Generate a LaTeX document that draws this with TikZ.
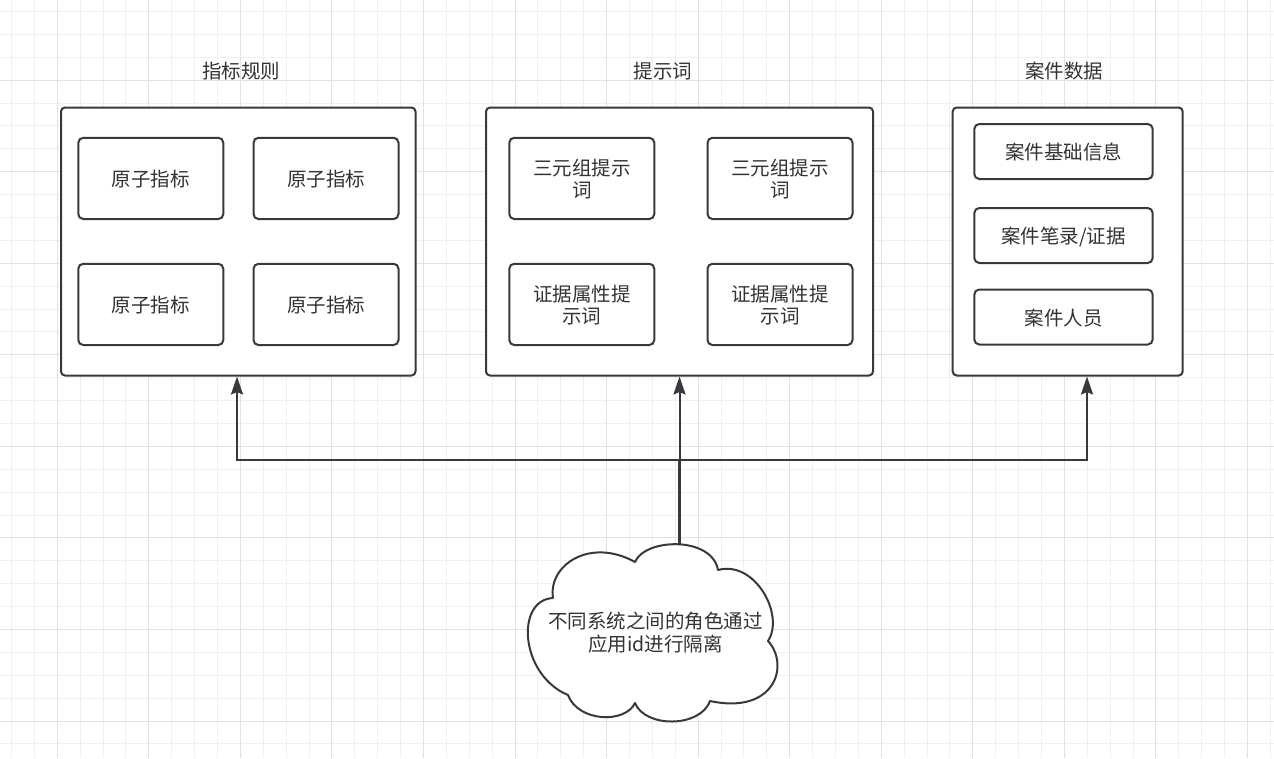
\documentclass[tikz,border=0pt]{standalone}
\usepackage{fontspec}
\setmainfont{Noto Sans CJK SC}
\usetikzlibrary{arrows.meta}
\definecolor{strokec}{HTML}{36393D}
\definecolor{txtc}{HTML}{333333}
\definecolor{gridminor}{HTML}{F0F0F0}
\definecolor{gridmajor}{HTML}{E2E2E2}
\begin{document}
\begin{tikzpicture}[x=1pt,y=-1pt,
  outerbox/.style={draw=strokec, line width=2pt, rounded corners=4pt, fill=white, inner sep=0pt},
  innerbox/.style={draw=strokec, line width=2pt, rounded corners=5pt, fill=white, inner sep=0pt, align=center, text=txtc, font=\fontsize{19.5}{22}\selectfont, text depth=0pt},
  titletext/.style={text=txtc, font=\fontsize{19.5}{23.3}\selectfont, inner sep=0pt, align=center},
  conn/.style={draw=strokec, line width=2pt, -{Stealth[length=18pt,width=12pt,inset=2.5pt]}},
  trunk/.style={draw=strokec, line width=3.5pt},
  cloudshape/.style={draw=strokec, line width=2pt, fill=white, line join=round}
]
\useasboundingbox (0,0) rectangle (1274,758);
\fill[white] (0,0) rectangle (1274,758);
% grid
\foreach \i in {0,...,55} \draw[gridminor, line width=1pt] ({11.45+\i*22.89},0) -- ({11.45+\i*22.89},758);
\foreach \j in {0,...,32} \draw[gridminor, line width=1pt] (0,{11.45+\j*22.89}) -- (1274,{11.45+\j*22.89});
\foreach \i in {2,6,...,54} \draw[gridmajor, line width=1pt] ({11.45+\i*22.89},0) -- ({11.45+\i*22.89},758);
\foreach \j in {3,7,...,31} \draw[gridmajor, line width=1pt] (0,{11.45+\j*22.89}) -- (1274,{11.45+\j*22.89});

% titles
\node[titletext] (t1) at (241.3,71) {指标规则};
\node[titletext] (t2) at (663,71) {提示词};
\node[titletext] (t3) at (1064,71) {案件数据};

% outer boxes
\node[outerbox, minimum width=354.5pt, minimum height=268pt] (rules) at (238.25,241.5) {};
\node[outerbox, minimum width=387pt, minimum height=268pt] (prompts) at (679.5,241.5) {};
\node[outerbox, minimum width=230pt, minimum height=268pt] (cases) at (1067.7,241.5) {};

% inner boxes: rules
\node[innerbox, minimum width=145pt, minimum height=81.3pt] (r1) at (150.8,178.4) {原子指标};
\node[innerbox, minimum width=145pt, minimum height=81.3pt] (r2) at (326,178.4) {原子指标};
\node[innerbox, minimum width=145pt, minimum height=81.3pt] (r3) at (150.8,304.4) {原子指标};
\node[innerbox, minimum width=145pt, minimum height=81.3pt] (r4) at (326,304.4) {原子指标};

% inner boxes: prompts
\node[innerbox, minimum width=145pt, minimum height=81.3pt] (p1) at (581.8,178.4) {三元组提示\\词};
\node[innerbox, minimum width=145pt, minimum height=81.3pt] (p2) at (780,178.4) {三元组提示\\词};
\node[innerbox, minimum width=145pt, minimum height=81.3pt] (p3) at (581.8,304.4) {证据属性提\\示词};
\node[innerbox, minimum width=145pt, minimum height=81.3pt] (p4) at (780,304.4) {证据属性提\\示词};

% inner boxes: cases
\node[innerbox, minimum width=178.4pt, minimum height=55pt] (c1) at (1063.5,151.5) {案件基础信息};
\node[innerbox, minimum width=178.4pt, minimum height=55pt] (c2) at (1063.5,235.5) {案件笔录/证据};
\node[innerbox, minimum width=178.4pt, minimum height=55pt] (c3) at (1063.5,317) {案件人员};

% cloud
\draw[cloudshape] (553,598) .. controls (548,565) and (590,537) .. (635,562)
  .. controls (645,538) and (712,536) .. (718,570)
  .. controls (755,560) and (785,615) .. (768,641)
  .. controls (790,665) and (775,715) .. (710,701)
  .. controls (700,728) and (645,728) .. (635,703)
  .. controls (625,724) and (578,722) .. (568,695)
  .. controls (520,675) and (515,600) .. cycle;
\node[titletext] (cloud) at (655.5,632.5) {不同系统之间的角色通过\\应用id进行隔离};
\coordinate (cloudtop) at (679.5,545);
\coordinate (jn) at (679.5,459.5);

% connectors
\draw[trunk] (cloudtop) -- (jn);
\draw[conn] (cloudtop) -- (jn) -| ([xshift=-1.25pt]rules.south);
\draw[conn] (cloudtop) -- (prompts.south);
\draw[conn] (cloudtop) -- (jn) -| ([xshift=19.3pt]cases.south);
\end{tikzpicture}
\end{document}
